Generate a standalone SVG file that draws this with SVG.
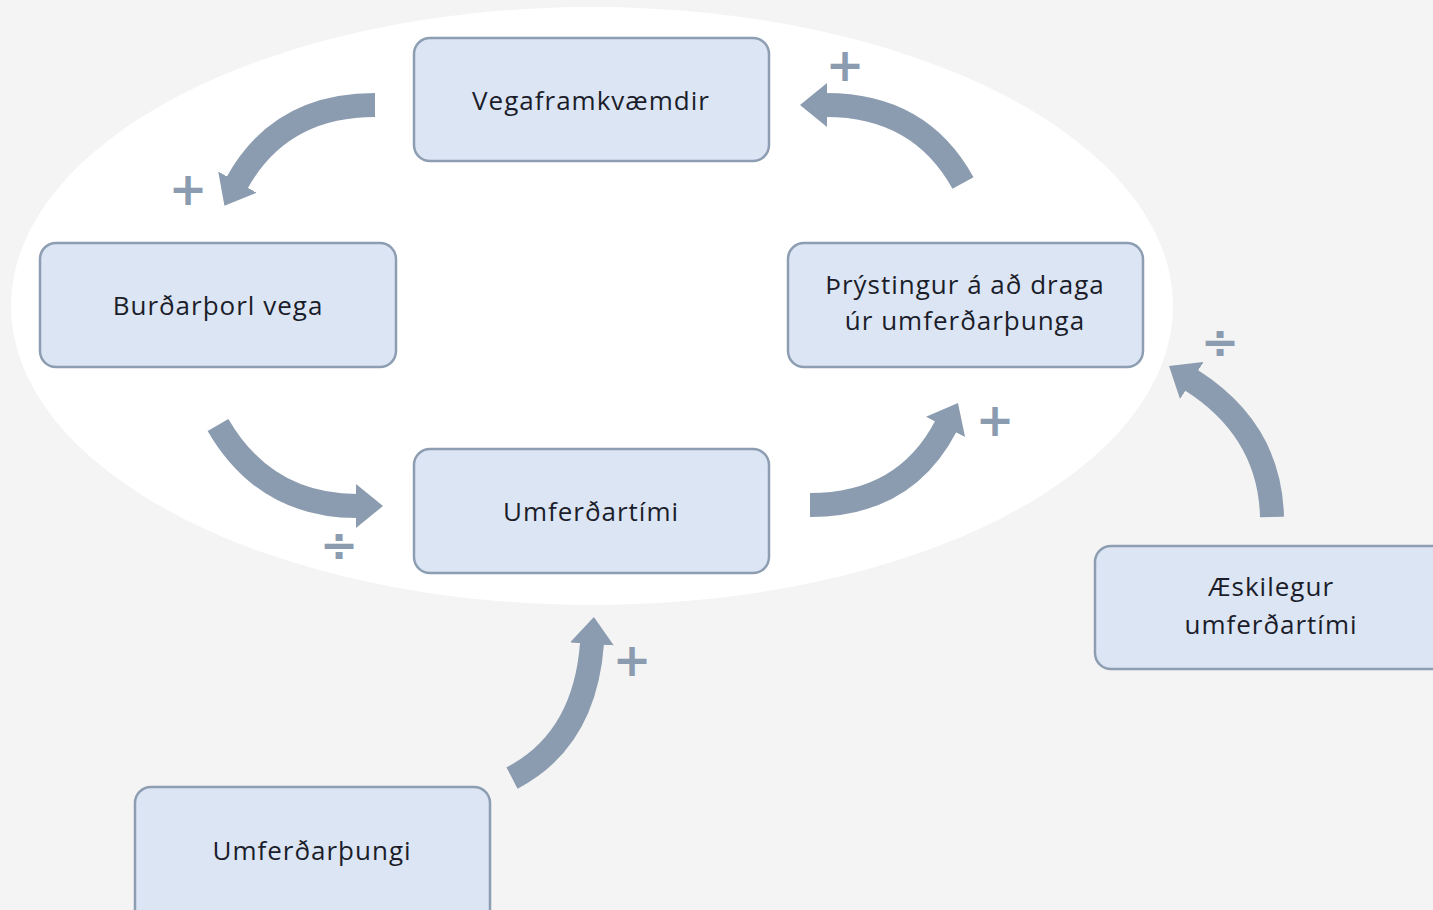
<svg xmlns="http://www.w3.org/2000/svg" width="1433" height="910" viewBox="0 0 1433 910">
<style>
.box{fill:#dce5f4;stroke:#8d9db2;stroke-width:2.5}
.lbl{font-family:"Open Sans","Liberation Sans",sans-serif;font-size:26px;letter-spacing:1px;fill:#1b1e2a;text-anchor:middle}
.arr{fill:none;stroke:#8c9cb0;stroke-width:24;stroke-linecap:butt}
.sign{font-family:"DejaVu Sans","Liberation Sans",sans-serif;font-size:46px;font-weight:bold;fill:#8c9cb0;text-anchor:middle}
</style>
<defs>
<marker id="head" markerUnits="userSpaceOnUse" markerWidth="27" markerHeight="44" viewBox="0 0 27 44" refX="1" refY="22" orient="auto">
<path d="M0,0 L27,22 L0,44 z" fill="#8c9cb0"/>
</marker>
</defs>
<rect width="1433" height="910" fill="#f4f4f4"/>
<ellipse cx="592" cy="306" rx="581" ry="299" fill="#ffffff"/>
<g id="connectors">
<path class="arr" d="M375,105 Q280,105 237,183" marker-end="url(#head)"/>
<path class="arr" d="M963,183 Q920,105 826,105" marker-end="url(#head)"/>
<path class="arr" d="M218,425 Q265,506 357,506" marker-end="url(#head)"/>
<path class="arr" d="M810,505 Q905,505 946,426" marker-end="url(#head)"/>
<path class="arr" d="M1272,517 Q1270,430 1191,380" marker-end="url(#head)"/>
<path class="arr" d="M512,778 Q585,740 592,643" marker-end="url(#head)"/>
</g>
<g id="signs">
<text class="sign" x="188" y="205">+</text>
<text class="sign" x="845" y="81">+</text>
<text class="sign" x="995" y="436">+</text>
<text class="sign" x="632" y="676">+</text>
<text class="sign" x="339" y="561">÷</text>
<text class="sign" x="1220" y="358">÷</text>
</g>
<g id="n-vegaframkvaemdir">
<rect class="box" x="414" y="38" width="355" height="123" rx="16"/>
<text class="lbl" x="591" y="110">Vegaframkvæmdir</text>
</g>
<g id="n-burdarthol">
<rect class="box" x="40" y="243" width="356" height="124" rx="16"/>
<text class="lbl" x="218" y="315">Burðarþorl vega</text>
</g>
<g id="n-thrystingur">
<rect class="box" x="788" y="243" width="355" height="124" rx="16"/>
<text class="lbl" x="965" y="294">Þrýstingur á að draga</text>
<text class="lbl" x="965" y="330">úr umferðarþunga</text>
</g>
<g id="n-umferdartimi">
<rect class="box" x="414" y="449" width="355" height="124" rx="16"/>
<text class="lbl" x="591" y="521">Umferðartími</text>
</g>
<g id="n-umferdarthungi">
<rect class="box" x="135" y="787" width="355" height="140" rx="16"/>
<text class="lbl" x="312" y="860">Umferðarþungi</text>
</g>
<g id="n-aeskilegur">
<rect class="box" x="1095" y="546" width="360" height="123" rx="16"/>
<text class="lbl" x="1271" y="596">Æskilegur</text>
<text class="lbl" x="1271" y="634">umferðartími</text>
</g>
</svg>
